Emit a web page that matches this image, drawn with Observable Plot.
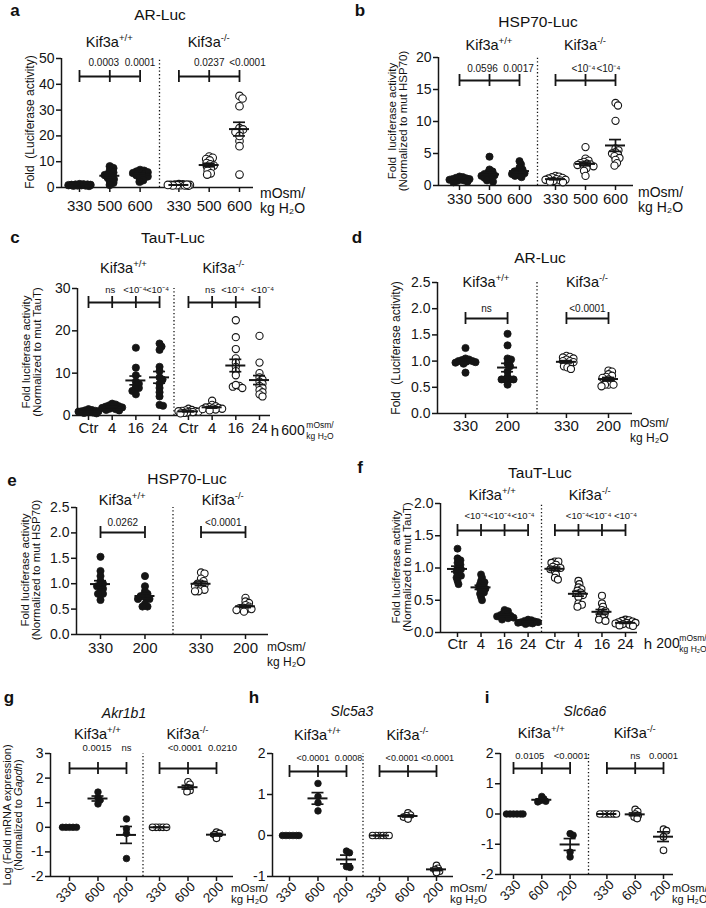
<!DOCTYPE html>
<html><head><meta charset="utf-8">
<script src="https://cdn.jsdelivr.net/npm/d3@7"></script>
<script src="https://cdn.jsdelivr.net/npm/@observablehq/plot@0.6"></script>
<style>
body{margin:0;background:#fff;font-family:"Liberation Sans",Arial,sans-serif;color:#111}
#fig{position:relative;width:706px;height:908px;overflow:hidden;background:#fff}
.t{position:absolute;white-space:nowrap;line-height:1.0;text-align:center}
.t sup{font-size:66%;vertical-align:0;position:relative;top:-0.6em}
#fig svg{position:absolute}
</style></head><body><div id="fig"></div><script>
// ---------- data ----------
// a: AR-Luc, hypertonic
const aCats = ["330","500","600"];
const aWT = [[1.3,1.2,1.1,1.0,1.0,0.9,0.9,0.8,0.8,0.7,0.6,1.1],[8.2,7.5,6.5,5.8,5.2,4.8,4.3,3.8,3.2,2.5,1.8,1.0],[6.8,6.5,6.2,5.9,5.6,5.3,5.0,4.7,4.3,3.8,2.8,2.2]];
const aKO = [[1.3,1.2,1.1,1.0,1.0,0.9,0.9,0.8,0.8,0.7,1.1,1.0],[12.0,11.5,11.0,10.5,9.5,9.0,8.5,8.0,7.5,6.5,5.5,5.0],[35.5,34.5,31.5,23,22.5,21.5,21.5,18,16,20,5]];
const aPWT = ["0.0003","0.0001"];
const aPKO = ["0.0237","<0.0001"];
// b: HSP70-Luc, hypertonic
const bCats = ["330","500","600"];
const bWT = [[1.4,1.3,1.2,1.1,1.0,1.0,0.9,0.9,0.8,0.7,0.6,0.5],[4.5,2.5,2.2,2.0,1.8,1.7,1.6,1.5,1.4,1.2,1.0,0.8,0.6],[3.8,3.3,2.8,2.5,2.3,2.2,2.0,1.9,1.8,1.6,1.5,1.3]];
const bKO = [[1.5,1.4,1.3,1.2,1.1,1.0,0.9,0.9,0.8,0.7,0.6,0.5],[6.0,4.2,3.9,3.7,3.5,3.4,3.3,3.2,3.1,3.0,2.7,2.3,1.5],[12.9,12.5,10.1,5.8,5.5,5.2,5.0,4.8,4.6,4.3,4.0,3.5,3.1]];
const bPWT = ["0.0596","0.0017"];
const bPKO = ["<10\u207B\u2074","<10\u207B\u2074"];
// c: TauT-Luc, time course 600
const cCats = ["Ctr","4","16","24"];
const cWT = [[1.5,1.3,1.2,1.1,1.0,1.0,0.9,0.9,0.8,0.7,0.6,0.5],[2.8,2.6,2.4,2.2,2.1,2.0,1.9,1.8,1.6,1.5,1.3,1.2],[16.0,11.3,9.5,8.0,7.5,7.0,6.5,6.2,5.8,5.0],[17.0,16.3,15.5,11.5,10.5,9.0,8.5,7.5,6.5,5.5,4.5,2.5,2.3]];
const cKO = [[1.6,1.3,1.2,1.1,1.0,1.0,0.9,0.9,0.8,0.7,0.6,0.5],[3.5,2.5,2.2,2.0,1.9,1.8,1.7,1.6,1.5,1.4,1.2],[22.5,18.5,15.7,13.5,12.5,11.5,10.5,9.5,7.0,6.5,6.8,7.2],[18.8,12.5,10.0,9.0,8.5,8.0,7.5,7.0,6.5,6.0,5.5,5.0,4.5]];
const cPWT = ["ns","<10\u207B\u2074","<10\u207B\u2074"];
const cPKO = ["ns","<10\u207B\u2074","<10\u207B\u2074"];
// d: AR-Luc, hypotonic
const dCats = ["330","200"];
const dWT = [[1.25,1.05,1.03,1.02,1.0,1.0,0.99,0.98,0.97,0.95,0.78],[1.52,1.3,1.05,1.03,0.95,0.9,0.8,0.7,0.65,0.65,0.65,0.65,0.55]];
const dKO = [[1.1,1.08,1.07,1.05,1.03,1.0,1.0,0.98,0.95,0.93,0.9,0.88,0.85],[0.82,0.8,0.75,0.72,0.7,0.68,0.65,0.6,0.55,0.55,0.55,0.52]];
const dPWT = ["ns"];
const dPKO = ["<0.0001"];
// e: HSP70-Luc, hypotonic
const eCats = ["330","200"];
const eWT = [[1.53,1.25,1.15,1.05,1.0,0.95,0.95,0.9,0.85,0.8,0.8,0.68],[1.15,0.95,0.85,0.8,0.78,0.75,0.72,0.7,0.7,0.6,0.55,0.55]];
const eKO = [[1.22,1.2,1.1,1.05,1.0,1.0,0.98,0.95,0.9,0.88,0.85,0.85],[0.72,0.65,0.62,0.58,0.55,0.53,0.52,0.5,0.5,0.48,0.45]];
const ePWT = ["0.0262"];
const ePKO = ["<0.0001"];
// f: TauT-Luc, time course 200
const fCats = ["Ctr","4","16","24"];
const fWT = [[1.3,1.15,1.12,1.08,1.05,1.0,0.98,0.95,0.9,0.88,0.85,0.8,0.75],[0.9,0.85,0.8,0.78,0.75,0.72,0.7,0.68,0.65,0.62,0.6,0.55,0.5],[0.35,0.33,0.3,0.28,0.27,0.26,0.25,0.24,0.23,0.22,0.2],[0.2,0.19,0.18,0.17,0.16,0.16,0.15,0.15,0.14,0.13]];
const fKO = [[1.1,1.1,1.08,1.05,1.02,1.0,1.0,0.98,0.95,0.9,0.85,0.82],[0.8,0.75,0.7,0.67,0.65,0.62,0.6,0.58,0.55,0.45,0.43,0.4],[0.57,0.45,0.4,0.35,0.33,0.3,0.28,0.25,0.22,0.2,0.18],[0.2,0.19,0.18,0.17,0.16,0.15,0.15,0.14,0.13,0.12,0.11,0.1]];
const fPWT = ["<10\u207B\u2074","<10\u207B\u2074","<10\u207B\u2074"];
const fPKO = ["<10\u207B\u2074","<10\u207B\u2074","<10\u207B\u2074"];
// g: Akr1b1
const gCats = ["330","600","200"];
const gWT = [[0,0,0,0,0],[1.43,1.2,1.1,0.95],[0.34,-0.06,-0.25,-1.27]];
const gKO = [[0,0,0,0,0],[1.85,1.75,1.6,1.5,1.45],[-0.2,-0.25,-0.3,-0.45]];
const gPWT = ["0.0015","ns"];
const gPKO = ["<0.0001","0.0210"];
// h: Slc5a3
const hCats = ["330","600","200"];
const hWT = [[0,0,0,0,0,0],[1.27,0.95,0.8,0.6],[-0.38,-0.42,-0.76,-0.78]];
const hKO = [[0,0,0,0,0,0],[0.55,0.5,0.48,0.45,0.4],[-0.73,-0.8,-0.83,-0.87,-0.9]];
const hPWT = ["<0.0001","0.0008"];
const hPKO = ["<0.0001","<0.0001"];
// i: Slc6a6
const iCats = ["330","600","200"];
const iWT = [[0,0,0,0,0,0],[0.58,0.5,0.45,0.42,0.4],[-0.65,-0.7,-1.26,-1.42]];
const iKO = [[0,0,0,0,0,0],[0.15,0.08,0.0,-0.05,-0.1,-0.15],[-0.5,-0.55,-0.75,-1.2]];
const iPWT = ["0.0105","<0.0001"];
const iPKO = ["ns","0.0001"];

// ---------- helpers ----------
const fig = document.getElementById("fig");
const FONT = '"Liberation Sans", Arial, sans-serif';
const INK = "#151515";

function T(html, x, y, o = {}) {
  const d = document.createElement("div");
  d.className = "t";
  d.innerHTML = html;
  d.style.left = x + "px";
  d.style.top = y + "px";
  d.style.fontSize = (o.size || 14) + "px";
  if (o.lh) d.style.lineHeight = o.lh + "px";
  if (o.bold) d.style.fontWeight = "bold";
  if (o.italic) d.style.fontStyle = "italic";
  let tf = o.anchor === "start" ? "translate(0,-50%)" : o.anchor === "end" ? "translate(-100%,-50%)" : "translate(-50%,-50%)";
  if (o.rot) tf += ` rotate(${o.rot}deg)`;
  d.style.transform = tf;
  fig.appendChild(d);
}

// compact horizontal spreading of overlapping points (pixel offsets)
function swarm(vals, pxY, r) {
  const idx = vals.map((_, i) => i).sort((a, b) => vals[b] - vals[a]);
  const placed = [], off = new Array(vals.length).fill(0);
  const dmin = r * 0.95, maxW = r * 2.9;
  const cands = [0];
  for (let c = 0.5; c <= maxW; c += 0.5) cands.push(c, -c);
  for (const i of idx) {
    const y = vals[i] * pxY;
    let best = 0, bestD = -1;
    for (const c of cands) {
      const dm = placed.length ? Math.min(...placed.map(p => Math.hypot(p.x - c, p.y - y))) : Infinity;
      if (dm >= dmin) { best = c; bestD = Infinity; break; }
      if (dm > bestD) { bestD = dm; best = c; }
    }
    off[i] = best; placed.push({x: best, y});
  }
  return off;
}

function panel(cats, wt, ko, pWT, pKO, yDomain, yTicks, fmt, L) {
  const n = cats.length;
  const posWT = cats.map((_, i) => i);
  const posKO = cats.map((_, i) => n - 1 + L.gap + i);
  const last = posKO[n - 1], sep = n - 1 + L.gap / 2;
  const fw = L.x2 - L.x1, fh = L.bottom - L.top;
  const s = (fw - L.padL - L.padR) / last;
  const xd = [-L.padL / s, last + L.padR / s];
  const [y0, y1] = yDomain;
  const pxY = fh / (y1 - y0);
  const ML = 46, MR = 6, MT = 44, MB = 46;
  const rowsWT = [], rowsKO = [], stats = [];
  [[wt, posWT, rowsWT], [ko, posKO, rowsKO]].forEach(([sets, pos, rows]) => {
    sets.forEach((vals, i) => {
      const off = swarm(vals, pxY, L.r);
      vals.forEach((v, j) => rows.push({x: pos[i] + off[j] / s, y: v}));
      const m = d3.mean(vals), se = d3.deviation(vals) / Math.sqrt(vals.length);
      stats.push({x: pos[i], m, lo: m - se, hi: m + se});
    });
  });
  const bl = y1 - L.br / pxY, bt = 6 / pxY;
  const brk = [{a: posWT[0], b: posWT[n - 1]}, {a: posKO[0], b: posKO[n - 1]}];
  const pAt = (pos, i) => n === 2 ? (pos[0] + pos[1]) / 2 : pos[i + 1];
  const pv = [...pWT.map((t, i) => ({x: pAt(posWT, i), t})), ...pKO.map((t, i) => ({x: pAt(posKO, i), t}))];
  pv.forEach((d, k) => { d.x += (L.pDx ? L.pDx[k] : 0) / s; });
  const allPos = [...posWT, ...posKO];
  const lab = new Map(allPos.map((p, i) => [p, cats[i % n]]));
  const mw = 10 / s, cw = 6 / s;
  const caps = stats.flatMap(d => [{x: d.x, y: d.lo}, {x: d.x, y: d.hi}]);
  const marks = [
    Plot.ruleX([sep], {y1: y0, y2: y1, strokeDasharray: "1.3,2.3", strokeWidth: 1.3, stroke: INK}),
    Plot.ruleX([xd[0]], {y1: y0, y2: y1, strokeWidth: 1.5, stroke: INK}),
    Plot.ruleY([y0], {strokeWidth: 1.5, stroke: INK}),
    Plot.axisY({ticks: yTicks, tickFormat: fmt, tickSize: 5, tickPadding: 2, label: null, fontSize: 14, strokeWidth: 1.5}),
    Plot.axisX({ticks: allPos, tickFormat: L.rot ? () => "" : p => lab.get(p), tickSize: 5, tickPadding: L.tp, label: null, fontSize: 15, strokeWidth: 1.5}),
    Plot.dot(rowsWT, {x: "x", y: "y", r: L.r, fill: INK, stroke: INK, strokeWidth: 0.8}),
    Plot.dot(rowsKO, {x: "x", y: "y", r: L.r, fill: "white", stroke: INK, strokeWidth: 1.1}),
    Plot.ruleY(stats, {y: "m", x1: d => d.x - mw, x2: d => d.x + mw, strokeWidth: 2, stroke: INK}),
    Plot.ruleX(stats, {x: "x", y1: "lo", y2: "hi", strokeWidth: 1.7, stroke: INK}),
    Plot.ruleY(caps, {y: "y", x1: d => d.x - cw, x2: d => d.x + cw, strokeWidth: 1.7, stroke: INK}),
    Plot.ruleY(brk, {y: () => bl, x1: "a", x2: "b", strokeWidth: 1.8, stroke: INK}),
    Plot.ruleX(allPos, {x: d => d, y1: bl - bt, y2: bl + bt, strokeWidth: 1.8, stroke: INK}),
    Plot.text(pv, {x: "x", y: () => bl, text: "t", dy: -L.pOff, fontSize: L.pf || 10})
  ];
  if (L.rot) marks.push(Plot.text(allPos, {x: d => d, text: d => lab.get(d), frameAnchor: "bottom", dy: 19, rotate: -45, fontSize: 13.5}));
  const svg = Plot.plot({
    width: fw + ML + MR, height: fh + MT + MB,
    marginLeft: ML, marginRight: MR, marginTop: MT, marginBottom: MB,
    x: {domain: xd}, y: {domain: yDomain},
    style: {background: "transparent", overflow: "visible", fontFamily: FONT, color: INK},
    marks
  });
  svg.style.left = (L.x1 - ML) + "px";
  svg.style.top = (L.top - MT) + "px";
  fig.appendChild(svg);
  const xs = v => L.x1 + (v - xd[0]) * s;
  T("Kif3a<sup>+/+</sup>", xs(d3.mean(posWT)), L.kifY, {size: 14.5});
  T("Kif3a<sup>-/-</sup>", xs(d3.mean(posKO)), L.kifY, {size: 14.5});
}

const int = d => String(d);
const one = d3.format(".1f");

// ---------- panels ----------
panel(aCats, aWT, aKO, aPWT, aPKO, [0, 50], [0,10,20,30,40,50], int,
  {x1: 61, x2: 253, top: 58, bottom: 187, padL: 18, padR: 14, gap: 1.28, br: 18, pOff: 14, r: 3.8, kifY: 42, tp: 8, pf: 10, pDx: [-6, 0, 0, 8]});
panel(bCats, bWT, bKO, bPWT, bPKO, [0, 20], [0,5,10,15,20], int,
  {x1: 438, x2: 633, top: 57, bottom: 185, padL: 21, padR: 18, gap: 1.2, br: 23, pOff: 12, r: 3.6, kifY: 45, tp: 3, pf: 10, pDx: [-7, -1, -2, -7]});
panel(cCats, cWT, cKO, cPWT, cPKO, [0, 30], [0,10,20,30], int,
  {x1: 77, x2: 270, top: 288, bottom: 415, padL: 11, padR: 11, gap: 1.22, br: 14, pOff: 13, r: 3.6, kifY: 268, tp: 2, pf: 9.5, pDx: [-2, -1, -2, -2, -3, 3]});
panel(dCats, dWT, dKO, dPWT, dPKO, [0, 2.5], [0,0.5,1,1.5,2,2.5], one,
  {x1: 437, x2: 632, top: 282, bottom: 413, padL: 28, padR: 24, gap: 1.4, br: 36, pOff: 10, r: 3.6, kifY: 282, tp: 2, pf: 10});
panel(eCats, eWT, eKO, ePWT, ePKO, [0, 2.5], [0,0.5,1,1.5,2,2.5], one,
  {x1: 76, x2: 268, top: 507, bottom: 634, padL: 24, padR: 23, gap: 1.26, br: 25, pOff: 10, r: 3.6, kifY: 500, tp: 3, pf: 10});
panel(fCats, fWT, fKO, fPWT, fPKO, [0, 2.0], [0,0.5,1,1.5,2], one,
  {x1: 440, x2: 637, top: 503, bottom: 632, padL: 17, padR: 12, gap: 1.14, br: 27, pOff: 15, r: 3.5, kifY: 495, tp: 1, pf: 9.5, pDx: [-5, -5, -5, -1, -2, 0]});
panel(gCats, gWT, gKO, gPWT, gPKO, [-2, 3], [-2,-1,0,1,2,3], int,
  {x1: 50, x2: 233, top: 753, bottom: 876, padL: 19, padR: 17, gap: 1.16, br: 15, pOff: 21, r: 3.3, kifY: 734, tp: 2, rot: true, pf: 9.5, pDx: [-1, 0, -3, 6]});
panel(hCats, hWT, hKO, hPWT, hPKO, [-1, 2], [-1,0,1,2], int,
  {x1: 272, x2: 453, top: 753, bottom: 876, padL: 17, padR: 17, gap: 1.16, br: 18, pOff: 13, r: 3.3, kifY: 735, tp: 2, rot: true, pf: 9, pDx: [-5, 2, -6, 1]});
panel(iCats, iWT, iKO, iPWT, iPKO, [-2, 2], [-2,-1,0,1,2], int,
  {x1: 500, x2: 673, top: 753, bottom: 874, padL: 13, padR: 10, gap: 1.3, br: 15, pOff: 13, r: 3.3, kifY: 733, tp: 2, rot: true, pf: 9.5, pDx: [-12, 1, 0, 0]});

// ---------- panel letters & titles ----------
[["a",15,10],["b",360,10],["c",15,237],["d",357,237],["e",12,480],["f",360,467],["g",9,697],["h",254,697],["i",487,697]]
  .forEach(([t,x,y]) => T(t, x, y, {size: 17, bold: true}));
T("AR-Luc", 160, 15, {size: 15.5});
T("HSP70-Luc", 538, 22, {size: 15.5});
T("TauT-Luc", 173, 238, {size: 15.5});
T("AR-Luc", 540, 258, {size: 15.5});
T("HSP70-Luc", 187, 479, {size: 15.5});
T("TauT-Luc", 540, 473, {size: 15.5});
T("Akr1b1", 124, 713, {size: 14, italic: true});
T("Slc5a3", 352, 711, {size: 14, italic: true});
T("Slc6a6", 585, 711, {size: 14, italic: true});

// ---------- y-axis titles ----------
T("Fold&nbsp;&nbsp;(Luciferase activity)", 30, 122, {size: 12, rot: -90});
T("Fold&nbsp;&nbsp;luciferase activity<br>(Normalized to mut HSP70)", 398, 121, {size: 11.5, lh: 11, rot: -90});
T("Fold luciferase activity<br>(Normalized to mut TauT)", 32, 352, {size: 11.5, lh: 11, rot: -90});
T("Fold&nbsp;&nbsp;(Luciferase activity)", 396, 348, {size: 12, rot: -90});
T("Fold luciferase activity<br>(Normalized to mut HSP70)", 31, 570, {size: 11.5, lh: 11, rot: -90});
T("Fold luciferase activity<br>(Normalized to mut TauT)", 402, 567, {size: 11.5, lh: 11, rot: -90});
T("Log (Fold mRNA expression)<br>(Normalized to <i>Gapdh</i>)", 12, 815, {size: 11, lh: 10.5, rot: -90});

// ---------- x-axis unit labels ----------
T("mOsm/", 260, 193, {size: 14, anchor: "start"}); T("kg H\u2082O", 260, 208, {size: 14, anchor: "start"});
T("mOsm/", 638, 192, {size: 14, anchor: "start"}); T("kg H\u2082O", 638, 207, {size: 14, anchor: "start"});
T("h", 275, 430, {size: 15}); T("600", 293, 430, {size: 14});
T("mOsm/", 320, 425, {size: 8.5}); T("kg H\u2082O", 320, 436, {size: 8.5});
T("mOsm/", 630, 423, {size: 12, anchor: "start"}); T("kg H\u2082O", 630, 438, {size: 12, anchor: "start"});
T("mOsm/", 267, 647, {size: 12, anchor: "start"}); T("kg H\u2082O", 267, 662, {size: 12, anchor: "start"});
T("h", 648, 643, {size: 15}); T("200", 668, 643, {size: 14});
T("mOsm/", 693, 638, {size: 8.5}); T("kg H\u2082O", 693, 649, {size: 8.5});
T("mOsm/", 231, 889, {size: 11.5, anchor: "start"}); T("kg H\u2082O", 231, 900, {size: 11.5, anchor: "start"});
T("mOsm/", 450, 889, {size: 11.5, anchor: "start"}); T("kg H\u2082O", 450, 900, {size: 11.5, anchor: "start"});
T("mOsm/", 672, 888, {size: 11, anchor: "start"}); T("kg H\u2082O", 672, 899, {size: 11, anchor: "start"});
</script></body></html>
